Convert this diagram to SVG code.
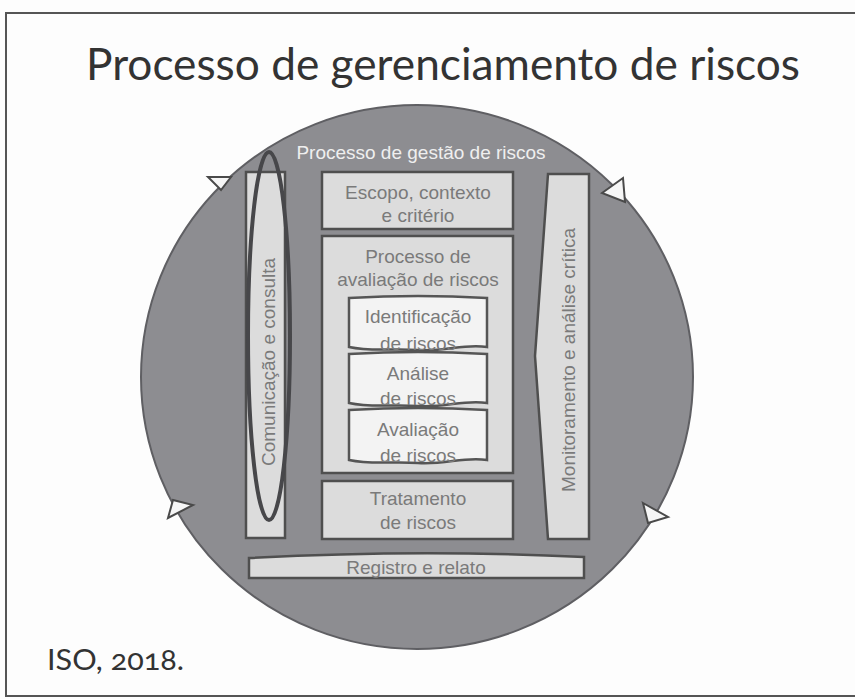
<svg xmlns="http://www.w3.org/2000/svg" width="855" height="699" viewBox="0 0 855 699">
  <style>
    .box { fill: #dcdcdc; stroke: #4f4f4f; stroke-width: 2.5; }
    .inner { fill: #f3f3f3; stroke: #555555; stroke-width: 2.5; }
    .lbl { font-family: "Liberation Sans", Arial, sans-serif; font-size: 19px; fill: #7a7a7a; text-anchor: middle; }
    .tri { fill: #f6f6f6; stroke: #4a4a4a; stroke-width: 2; stroke-linejoin: miter; }
  </style>
  <rect x="0" y="0" width="855" height="699" fill="#fdfdfd"/>
  <rect x="6" y="13" width="870" height="683" fill="none" stroke="#555555" stroke-width="2"/>
  <text x="86" y="80" font-family="Lato, 'Open Sans', sans-serif" font-size="44" fill="#333333" textLength="714" lengthAdjust="spacingAndGlyphs">Processo de gerenciamento de riscos</text>

  <g id="circle">
    <ellipse cx="417" cy="377" rx="276" ry="272" fill="#8d8d91" stroke="#5f5f63" stroke-width="2"/>
    <text x="421" y="159" font-family="'Liberation Sans', Arial, sans-serif" font-size="19" fill="#efefef" text-anchor="middle">Processo de gestão de riscos</text>
  </g>

  <g id="connectors">
    <polygon class="tri" points="208,177 231,177 221,190"/>
    <polygon class="tri" points="602,193 623,178 625,202"/>
    <polygon class="tri" points="168,518 173,500 193,505"/>
    <polygon class="tri" points="643,503 668,517 648,523"/>
  </g>

  <g id="comunicacao">
    <rect class="box" x="246" y="172" width="39" height="366"/>
    <text class="lbl" transform="translate(275,362) rotate(-90)">Comunicação e consulta</text>
    <ellipse cx="269" cy="336" rx="21" ry="184" fill="none" stroke="#47474a" stroke-width="4"/>
  </g>

  <g id="monitoramento">
    <path class="box" d="M548,174 L589,174 L589,539 L548,539 L535,356 Z"/>
    <text class="lbl" transform="translate(575,360) rotate(-90)">Monitoramento e análise crítica</text>
  </g>

  <g id="escopo">
    <rect class="box" x="322" y="172" width="191" height="57"/>
    <text class="lbl" x="418" y="199">Escopo, contexto</text>
    <text class="lbl" x="418" y="222">e critério</text>
  </g>

  <g id="avaliacao-processo">
    <rect class="box" x="322" y="236" width="191" height="237"/>
    <text class="lbl" x="418" y="263">Processo de</text>
    <text class="lbl" x="418" y="286">avaliação de riscos</text>
  </g>

  <g id="identificacao">
    <path class="inner" d="M349,298 Q418,294 487,298 L487,347 C465,343 445,352 418,350 C392,348 372,352 349,347 Z"/>
    <text class="lbl" x="418" y="323">Identificação</text>
    <text class="lbl" x="418" y="350">de riscos</text>
  </g>

  <g id="analise">
    <path class="inner" d="M349,354 Q418,350 487,354 L487,403 C465,399 445,408 418,406 C392,404 372,408 349,403 Z"/>
    <text class="lbl" x="418" y="380">Análise</text>
    <text class="lbl" x="418" y="405">de riscos</text>
  </g>

  <g id="avaliacao">
    <path class="inner" d="M349,410 Q418,406 487,410 L487,460 C465,456 445,465 418,463 C392,461 372,465 349,460 Z"/>
    <text class="lbl" x="418" y="436">Avaliação</text>
    <text class="lbl" x="418" y="462">de riscos</text>
  </g>

  <g id="tratamento">
    <rect class="box" x="322" y="481" width="191" height="58"/>
    <text class="lbl" x="418" y="505">Tratamento</text>
    <text class="lbl" x="418" y="529">de riscos</text>
  </g>

  <g id="registro">
    <path class="box" d="M249,558 Q418,549 584,557 L584,578 L249,578 Z"/>
    <text class="lbl" x="416" y="574">Registro e relato</text>
  </g>

  <text x="47" y="670" font-family="Lato, 'Open Sans', sans-serif" font-size="28" fill="#333333" style="font-variant-numeric: oldstyle-nums" textLength="137" lengthAdjust="spacingAndGlyphs">ISO, 2018.</text>
</svg>
